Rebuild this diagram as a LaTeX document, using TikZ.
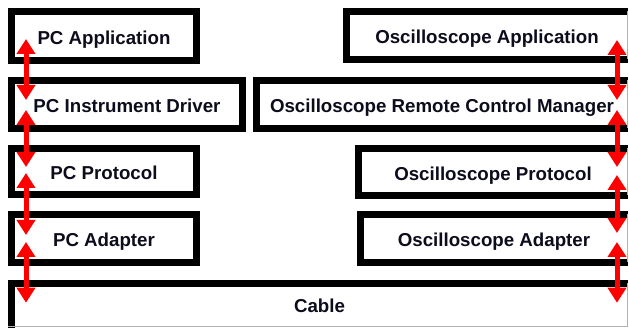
\documentclass[tikz,border=0pt]{standalone}
\usepackage{fontspec}
\setmainfont{Liberation Sans}
\usetikzlibrary{arrows.meta,calc}
\definecolor{labelink}{RGB}{12,12,28}
\definecolor{linkred}{RGB}{255,0,0}
\begin{document}
\begin{tikzpicture}[x=1pt,y=-1pt,
  layer/.style={rectangle, fill=white, inner sep=0pt, outer sep=0pt,
    text height=16.2pt, text depth=0pt,
    font=\fontsize{18.7}{22}\selectfont\bfseries, text=labelink},
  closed/.style={layer, draw=black, line width=7pt, line join=miter},
  rim/.style={draw=black, line width=7pt, line join=miter},
  cut/.style={draw=gray!60, line width=0.8pt},
  link/.style={draw=linkred, line width=5pt,
    {Triangle[width=18pt,length=15pt]}-{Triangle[width=18pt,length=15pt]}},
]
\fill[white] (0,0) rectangle (629,328);
\useasboundingbox (0,0) rectangle (629,328);

% PC stack
\node[closed, minimum width=185pt, minimum height=49pt] (pcapp) at (104,36) {PC Application};
\node[closed, minimum width=231pt, minimum height=48pt] (pcdrv) at (127,104.5) {PC Instrument Driver};
\node[closed, minimum width=185pt, minimum height=46pt] (pcprot) at (104,171.5) {PC Protocol};
\node[closed, minimum width=185pt, minimum height=48pt] (pcadp) at (104,238.5) {PC Adapter};

% oscilloscope stack (open on the right edge)
\node[layer, minimum width=281pt, minimum height=48pt] (oscapp) at (487,35.5) {Oscilloscope Application};
\node[layer, minimum width=371pt, minimum height=48pt] (oscrcm) at (442,104.5) {Oscilloscope Remote Control Manager};
\node[layer, minimum width=269pt, minimum height=47pt] (oscprot) at (493,172) {Oscilloscope Protocol};
\node[layer, minimum width=267pt, minimum height=48pt] (oscadp) at (494,238.5) {Oscilloscope Adapter};
\foreach \b in {oscapp,oscrcm,oscprot,oscadp}{
  \draw[rim] (\b.north east) -- (\b.north west) -- (\b.south west) -- (\b.south east);
  \draw[cut] (\b.north east) -- (\b.south east);
}

% cable along the bottom
\node[layer, minimum width=616pt, minimum height=42.5pt] (cable) at (319.5,304.75) {Cable};
\draw[rim] ($(cable.south west)+(0,4)$) -- (cable.north west) -- (cable.north east);
\draw[cut] (cable.north east) -- (cable.south east) -- ($(cable.south west)+(-3.5,0)$);

% arrow columns
\coordinate (lx) at (26,0);
\coordinate (rx) at (617,0);

\draw[link] ($(pcapp.center -| lx)+(0,3)$) -- ($(pcdrv.center -| lx)+(0,-4.5)$);
\draw[link] ($(pcdrv.center -| lx)+(0,5.5)$) -- ($(pcprot.center -| lx)+(0,-4.5)$);
\draw[link] ($(pcprot.center -| lx)+(0,1.5)$) -- ($(pcadp.center -| lx)+(0,-3.5)$);
\draw[link] ($(pcadp.center -| lx)+(0,3.5)$) -- ($(cable.center -| lx)+(0,-2)$);

\draw[link] ($(oscapp.center -| rx)+(0,4.5)$) -- ($(oscrcm.center -| rx)+(0,-4.5)$);
\draw[link] ($(oscrcm.center -| rx)+(0,5.5)$) -- ($(oscprot.center -| rx)+(0,-5)$);
\draw[link] ($(oscprot.center -| rx)+(0,3)$) -- ($(oscadp.center -| rx)+(0,-5.5)$);
\draw[link] ($(oscadp.center -| rx)+(0,3.5)$) -- ($(cable.center -| rx)+(0,-2)$);
\end{tikzpicture}
\end{document}
